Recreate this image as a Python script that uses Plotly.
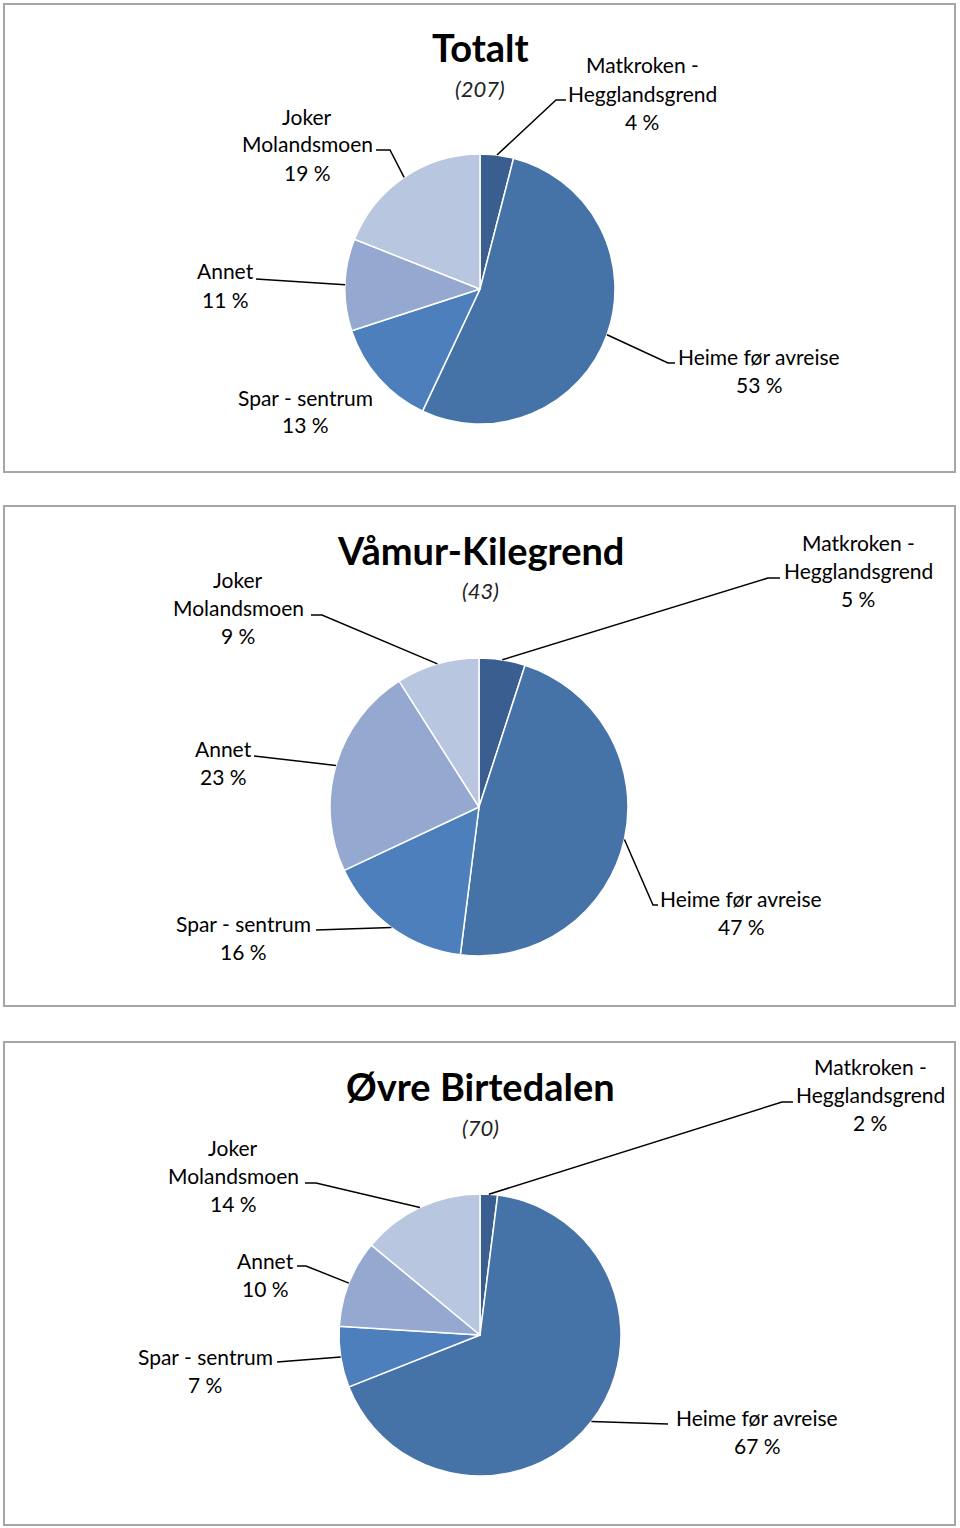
import math
import plotly.graph_objects as go

W, H = 960, 1528

# ---- data ----
categories = ["Matkroken - Hegglandsgrend", "Heime før avreise", "Spar - sentrum", "Annet", "Joker Molandsmoen"]
label_lines = [["Matkroken -", "Hegglandsgrend"], ["Heime før avreise"], ["Spar - sentrum"], ["Annet"], ["Joker", "Molandsmoen"]]
totalt = [4, 53, 13, 11, 19]
vamur_kilegrend = [5, 47, 16, 23, 9]
ovre_birtedalen = [2, 67, 7, 10, 14]
panel_titles = ["Totalt", "Våmur-Kilegrend", "Øvre Birtedalen"]
panel_counts = [207, 43, 70]
series = [totalt, vamur_kilegrend, ovre_birtedalen]

colors = ["#3B5E91", "#4573A8", "#4E7FBD", "#95A9D0", "#B9C6E0"]

# ---- layout (pixels) ----
boxes = [(4, 4, 955, 472), (4, 506, 955, 1006), (4, 1042, 955, 1525)]
pies = [(480, 289, 135), (479, 807, 149), (480, 1335, 141)]
title_pos = [(480, 47, 88), (480, 550, 590), (480, 1086, 1127)]
# per panel, per category: (center x, first line y, leader points after pie edge)
label_layout = [
    [(642, 65, [(556, 100), (566, 100)]),
     (759, 356, [(668, 363), (675, 363)]),
     (305, 397, None),
     (225, 271, [(256, 279)]),
     (307, 116, [(390, 150), (376, 150)])],
    [(858, 542, [(768, 578), (780, 578)]),
     (741, 898, [(653, 905), (658, 905)]),
     (243, 923, [(316, 930)]),
     (223, 748, [(254, 756)]),
     (238, 579, [(322, 615), (311, 615)])],
    [(870, 1066, [(782, 1102), (793, 1102)]),
     (757, 1417, [(668, 1424)]),
     (205, 1356, [(277, 1362)]),
     (265, 1260, [(306, 1266), (297, 1266)]),
     (233, 1147, [(316, 1183), (305, 1183)])],
]
LINE_H = 28
FONT = "Lato, 'Open Sans', sans-serif"


def px(x):
    return x / W


def py(y):
    return 1 - y / H


fig = go.Figure()
shapes = []
annotations = []

for p, vals in enumerate(series):
    cx, cy, r = pies[p]
    fig.add_trace(go.Pie(
        labels=categories, values=vals, sort=False, direction="clockwise", rotation=0,
        marker=dict(colors=colors, line=dict(color="white", width=1.5)),
        textinfo="none", hoverinfo="label+percent", showlegend=False,
        domain=dict(x=[px(cx - r), px(cx + r)], y=[py(cy + r), py(cy - r)]),
    ))
    x0, y0, x1, y1 = boxes[p]
    shapes.append(dict(type="rect", xref="paper", yref="paper", x0=px(x0), x1=px(x1),
                       y0=py(y1), y1=py(y0), line=dict(color="#A6A6A6", width=2)))
    tx, ty, sy = title_pos[p]
    annotations.append(dict(x=px(tx), y=py(ty), xref="paper", yref="paper", showarrow=False,
                            text=f"<b>{panel_titles[p]}</b>", font=dict(family=FONT, size=38, color="black"),
                            xanchor="center", yanchor="middle"))
    annotations.append(dict(x=px(tx), y=py(sy), xref="paper", yref="paper", showarrow=False,
                            text=f"<i>({panel_counts[p]})</i>", font=dict(family=FONT, size=22, color="#222"),
                            xanchor="center", yanchor="middle"))
    total = sum(vals)
    cum = 0
    for i, v in enumerate(vals):
        mid = (cum + v / 2) / total * 2 * math.pi
        cum += v
        sx = cx + r * math.sin(mid)
        sy0 = cy - r * math.cos(mid)
        lx, ly, pts = label_layout[p][i]
        lines = label_lines[i] + [f"{v} %"]
        for k, t in enumerate(lines):
            annotations.append(dict(x=px(lx), y=py(ly + k * LINE_H), xref="paper", yref="paper",
                                    showarrow=False, text=t, xanchor="center", yanchor="middle",
                                    font=dict(family=FONT, size=21, color="black")))
        if pts:
            path = f"M {px(sx)},{py(sy0)}" + "".join(f" L {px(a)},{py(b)}" for a, b in pts)
            shapes.append(dict(type="path", xref="paper", yref="paper", path=path,
                               line=dict(color="black", width=1.5)))

fig.update_layout(width=W, height=H, margin=dict(l=0, r=0, t=0, b=0),
                  paper_bgcolor="white", plot_bgcolor="white",
                  shapes=shapes, annotations=annotations)
fig.write_html("out.html", config={"displayModeBar": False},
               post_script="document.body.style.margin='0';document.body.style.overflow='hidden';")
